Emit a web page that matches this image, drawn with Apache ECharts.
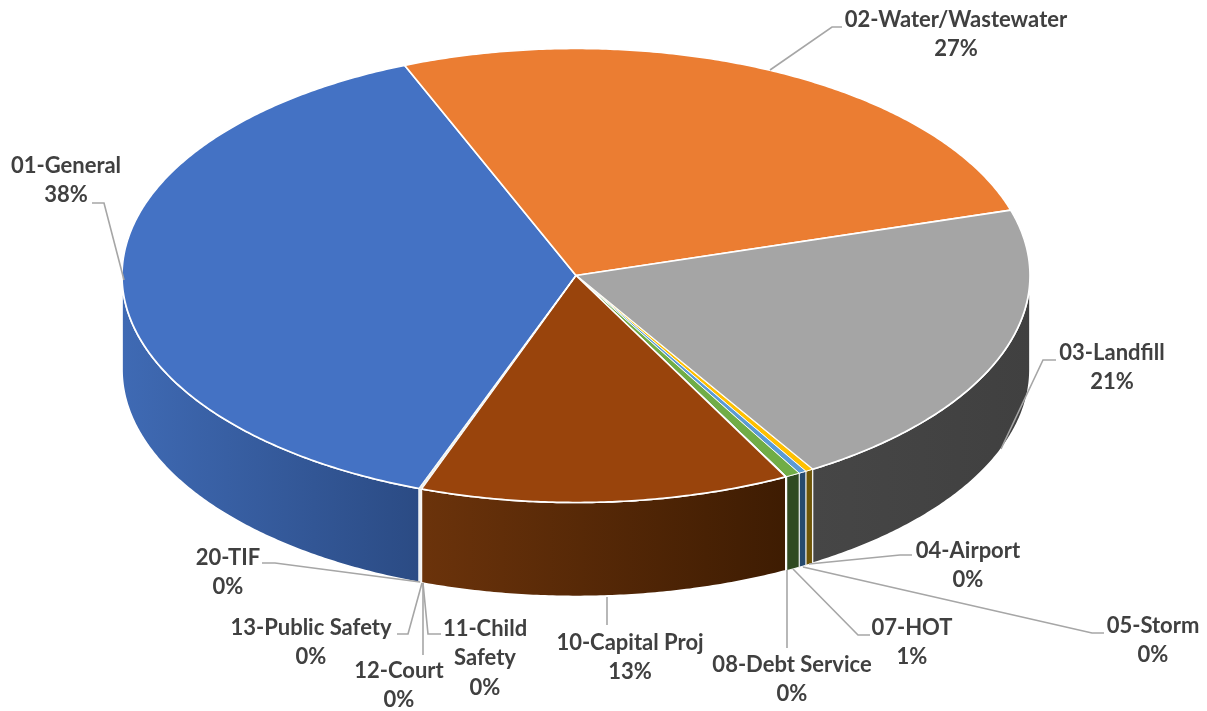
<!DOCTYPE html>
<html>
<head>
<meta charset="utf-8">
<style>html,body{margin:0;padding:0;background:#fff}#c{width:1207px;height:711px}</style>
<script src="https://cdn.jsdelivr.net/npm/echarts@6/dist/echarts.min.js"></script>
</head>
<body>
<div id="c"></div>
<script>
// ---- data ----
const funds = ['01-General','02-Water/Wastewater','03-Landfill','04-Airport','05-Storm','07-HOT','08-Debt Service','10-Capital Proj','11-Child\nSafety','12-Court','13-Public Safety','20-TIF'];
const shares = [38.2,26.5,20.91,0.27,0.27,0.5,0.03,13.17,0.02,0.02,0.02,0.02];

// ---- styles ----
const topColors  = ['#4472C4','#EB7D32','#A5A5A5','#FFC000','#5B9BD5','#70AD47','#264478','#99440C','#636363','#997300','#255E91','#43682B'];
const wallLeft   = ['#3F6AB4','#8C4A1E','#464646','#6E5508','#264A6E','#2F4A22','#1A2E50','#6B330B','#3C3C3C','#5C4500','#163957','#283F1A'];
const wallRight  = ['#2B4B84','#8C4A1E','#404040','#6E5508','#264A6E','#2F4A22','#1A2E50','#3E1C02','#3C3C3C','#5C4500','#163957','#283F1A'];

// ---- layout ----
const geo = {cx:576, cy:275.5, rx:454, ry:227, depth:94, startDeg:200.2};
// [label centre x, first line centre y, leader polyline]
const labelLayout = [
  {x:66,  y:165, line:[[124,280],[104,203],[92,203]]},
  {x:956, y:19,  line:[[770,70],[832,27],[842,27]]},
  {x:1112,y:352, line:[[1001,449],[1043,360],[1056,360]]},
  {x:968, y:550, line:[[809,564],[900,555],[912,555]]},
  {x:1153,y:625, line:[[803,567],[1092,633],[1104,633]]},
  {x:912, y:627, line:[[793,569],[858,635],[870,635]]},
  {x:792, y:664, line:[[787,570],[787,648]]},
  {x:630, y:642, line:[[607,597],[607,625]]},
  {x:485, y:628, line:[[423,583],[428,634],[441,634]]},
  {x:399, y:670, line:[[423,583],[423,655]]},
  {x:311, y:627, line:[[422,583],[408,634],[397,634]]},
  {x:228, y:557, line:[[420,582],[275,563],[262,563]]}
];

const total = shares.reduce((a,b)=>a+b,0);
function startOf(i){
  let s = 0;
  for(let k=0;k<i;k++) s += shares[k];
  return geo.startDeg + s/total*360;
}
function rimPoint(deg, dropped){
  const t = deg*Math.PI/180;
  return [geo.cx+geo.rx*Math.sin(t), geo.cy-geo.ry*Math.cos(t)+(dropped?geo.depth:0)];
}
function arcPoints(a0,a1,dropped){
  const pts=[], n=Math.max(1,Math.ceil(Math.abs(a1-a0)/0.5));
  for(let k=0;k<=n;k++) pts.push(rimPoint(a0+(a1-a0)*k/n,dropped));
  return pts;
}
function wallRanges(a0,a1){
  const out=[];
  for(const off of [0,360]){
    const s=Math.max(a0,90+off), e=Math.min(a1,270+off);
    if(e>s) out.push([s,e]);
  }
  return out;
}
function renderSlice(params, api){
  const i=params.dataIndex;
  const v=api.value(0);
  const a0=startOf(i), a1=a0+v/total*360;
  const edge=v<1?0.9:1.7;
  const children=[];
  wallRanges(a0,a1).forEach(r=>{
    const upper=arcPoints(r[0],r[1],false), lower=arcPoints(r[1],r[0],true);
    const xs=upper.map(p=>p[0]);
    children.push({type:'polygon',z2:1,shape:{points:upper.concat(lower)},
      style:{fill:{type:'linear',global:true,x:Math.min(...xs),y:0,x2:Math.max(...xs)+0.01,y2:0,
        colorStops:[{offset:0,color:wallLeft[i]},{offset:1,color:wallRight[i]}]},
        stroke:'#fff',lineWidth:edge}});
  });
  children.push({type:'polygon',z2:2,shape:{points:[[geo.cx,geo.cy]].concat(arcPoints(a0,a1,false))},
    style:{fill:topColors[i],stroke:'#fff',lineWidth:edge,lineJoin:'round'}});
  const L=labelLayout[i];
  children.push({type:'polyline',z2:3,shape:{points:L.line},style:{fill:'none',stroke:'#A6A6A6',lineWidth:1.6}});
  const pct=Math.round(v/total*100)+'%';
  children.push({type:'text',z2:4,style:{x:L.x,y:L.y-14,text:funds[i]+'\n'+pct,
    fill:'#404040',font:'700 22px Lato',lineHeight:29.5,align:'center',verticalAlign:'top'}});
  return {type:'group',children};
}
const chart=echarts.init(document.getElementById('c'),null,{renderer:'canvas'});
chart.setOption({
  animation:false,
  backgroundColor:'#fff',
  series:[{type:'custom',coordinateSystem:'none',silent:true,
    data:shares.map((v,i)=>({name:funds[i],value:[v]})),
    renderItem:renderSlice}]
});
</script>
</body>
</html>
